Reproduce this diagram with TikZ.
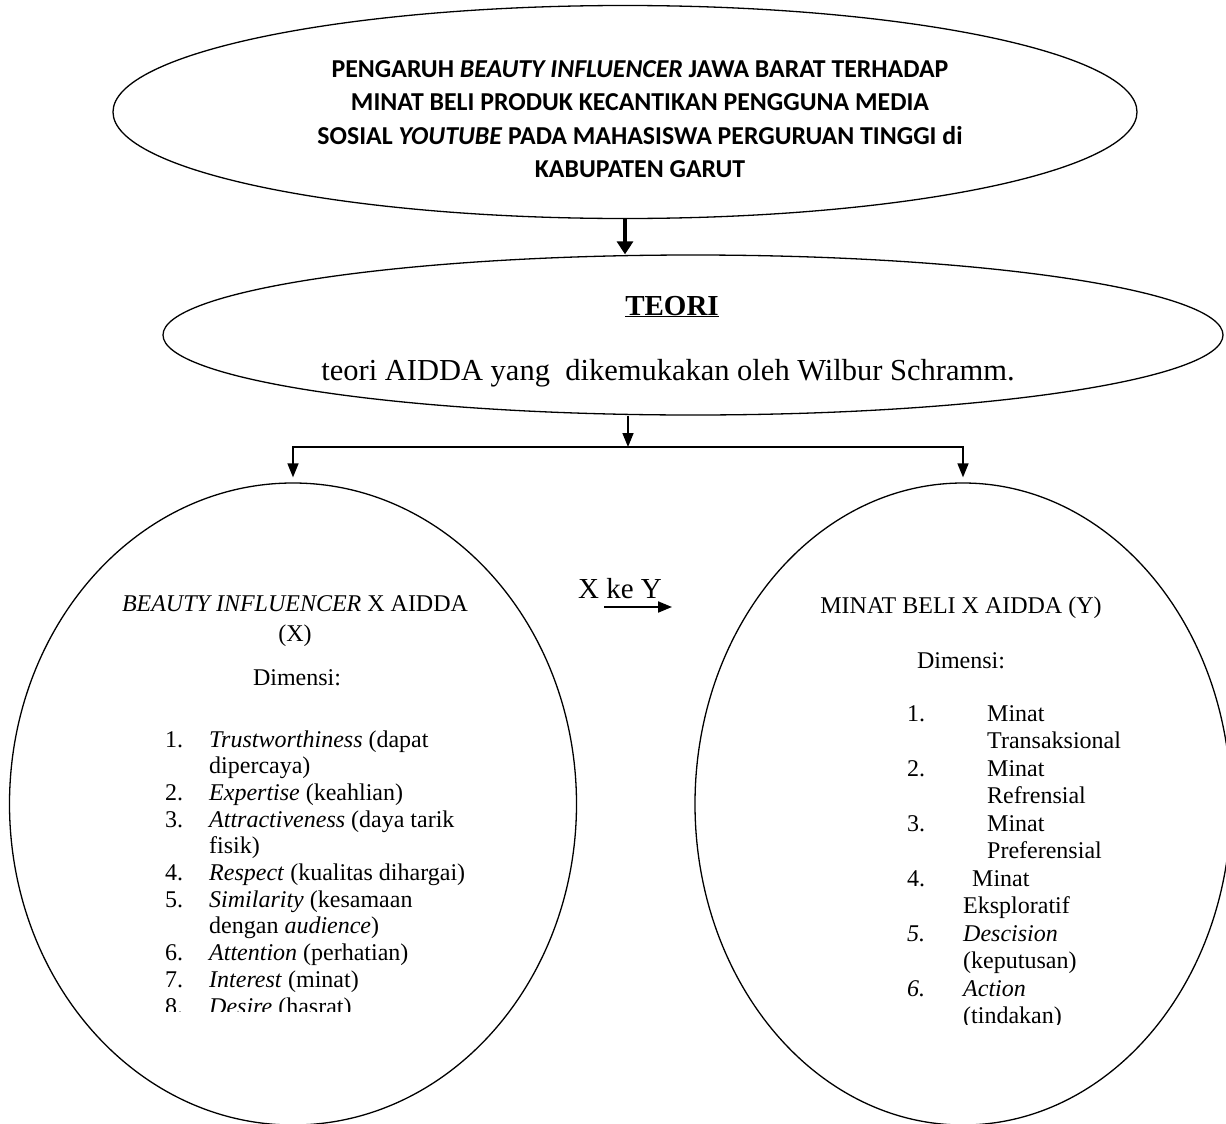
\documentclass[tikz,border=0pt]{standalone}
\usepackage{fontspec}
\setmainfont{Liberation Serif}
\newfontfamily\calibri{Carlito}
\usetikzlibrary{arrows.meta,shapes.geometric}

\begin{document}
\begin{tikzpicture}[x=1pt,y=-1pt,
  oval/.style={draw,ellipse,line width=1.3pt,inner sep=0pt},
  arr/.style={line width=1.6pt,-{Triangle[length=14pt,width=11pt]}},
  bigarr/.style={line width=4pt,-{Triangle[length=13pt,width=16pt]}},
  txt/.style={inner sep=0pt,anchor=base,font=\fontsize{24}{27}\selectfont}]
  \useasboundingbox (0,0) rectangle (1226,1124);

  % ellipses
  \node[oval,minimum width=1024pt,minimum height=213pt] (judul) at (625,112) {};
  \node[oval,minimum width=1060pt,minimum height=160pt] (teori) at (693,335) {};
  \node[oval,minimum width=567pt,minimum height=642pt] (varx) at (293,804) {};
  \node[oval,minimum width=536pt,minimum height=642pt] (vary) at (963,804) {};

  % title
  \node[align=center,inner sep=0pt,font=\calibri\bfseries\fontsize{25.8}{33.5}\selectfont] at (640,119)
    {PENGARUH \textit{BEAUTY INFLUENCER} JAWA BARAT TERHADAP\\
     MINAT BELI PRODUK KECANTIKAN PENGGUNA MEDIA\\
     SOSIAL \textit{YOUTUBE} PADA MAHASISWA PERGURUAN TINGGI di\\
     KABUPATEN GARUT};

  % theory
  \node[txt,font=\bfseries\fontsize{29}{33}\selectfont] at (672,315) {\underline{TEORI}};
  \node[txt,font=\fontsize{30.5}{34}\selectfont] at (668,380) {teori AIDDA yang\ \ dikemukakan oleh Wilbur Schramm.};

  % connectors
  \coordinate (cabang) at (628,447);
  \draw[bigarr] (judul.south) -- (judul.south |- teori.north);
  \draw[arr] (cabang |- teori.south) -- (cabang);
  \draw[arr,shorten >=5pt] (cabang) -| (varx.north);
  \draw[arr,shorten >=5pt] (cabang) -| (vary.north);

  % X ke Y
  \coordinate (xk) at (604,607);
  \coordinate (ky) at (672,607);
  \node[txt,font=\fontsize{29}{33}\selectfont] at (620,598) {X ke Y};
  \draw[arr,line width=2pt] (xk) -- (ky);

  % variable X
  \node[txt] at (295,611) {\textit{BEAUTY INFLUENCER} X AIDDA};
  \node[txt] at (295,641) {(X)};
  \node[txt] at (297,685) {Dimensi:};
  \begin{scope}
    \clip (0,0) rectangle (1226,1011);
    \foreach \i/\nomor in {0/1.,2/2.,3/3.,5/4.,6/5.,8/6.,9/7.,10/8.}
      \node[txt,anchor=base west] at (165,747+26.7*\i) {\nomor};
    \foreach \i/\isi in {0/{\textit{Trustworthiness} (dapat},1/{dipercaya)},
        2/{\textit{Expertise} (keahlian)},3/{\textit{Attractiveness} (daya tarik},
        4/{fisik)},5/{\textit{Respect} (kualitas dihargai)},
        6/{\textit{Similarity} (kesamaan},7/{dengan \textit{audience})},
        8/{\textit{Attention} (perhatian)},9/{\textit{Interest} (minat)},
        10/{\textit{Desire} (hasrat)}}
      \node[txt,anchor=base west] at (209,747+26.7*\i) {\isi};
  \end{scope}

  % variable Y
  \node[txt] at (961,613) {MINAT BELI X AIDDA (Y)};
  \node[txt] at (961,668) {Dimensi:};
  \begin{scope}
    \clip (0,0) rectangle (1226,1024);
    \foreach \i/\nomor in {0/1.,2/2.,4/3.,6/4.,8/\textit{5.},10/\textit{6.}}
      \node[txt,anchor=base west] at (907,721+27.5*\i) {\nomor};
    \foreach \i/\xx/\isi in {0/987/Minat,1/987/Transaksional,2/987/Minat,
        3/987/Refrensial,4/987/Minat,5/987/Preferensial,6/972/Minat,
        7/963/Eksploratif,8/963/\textit{Descision},9/963/(keputusan),
        10/963/\textit{Action},11/963/(tindakan)}
      \node[txt,anchor=base west] at (\xx,721+27.5*\i) {\isi};
  \end{scope}
\end{tikzpicture}
\end{document}
